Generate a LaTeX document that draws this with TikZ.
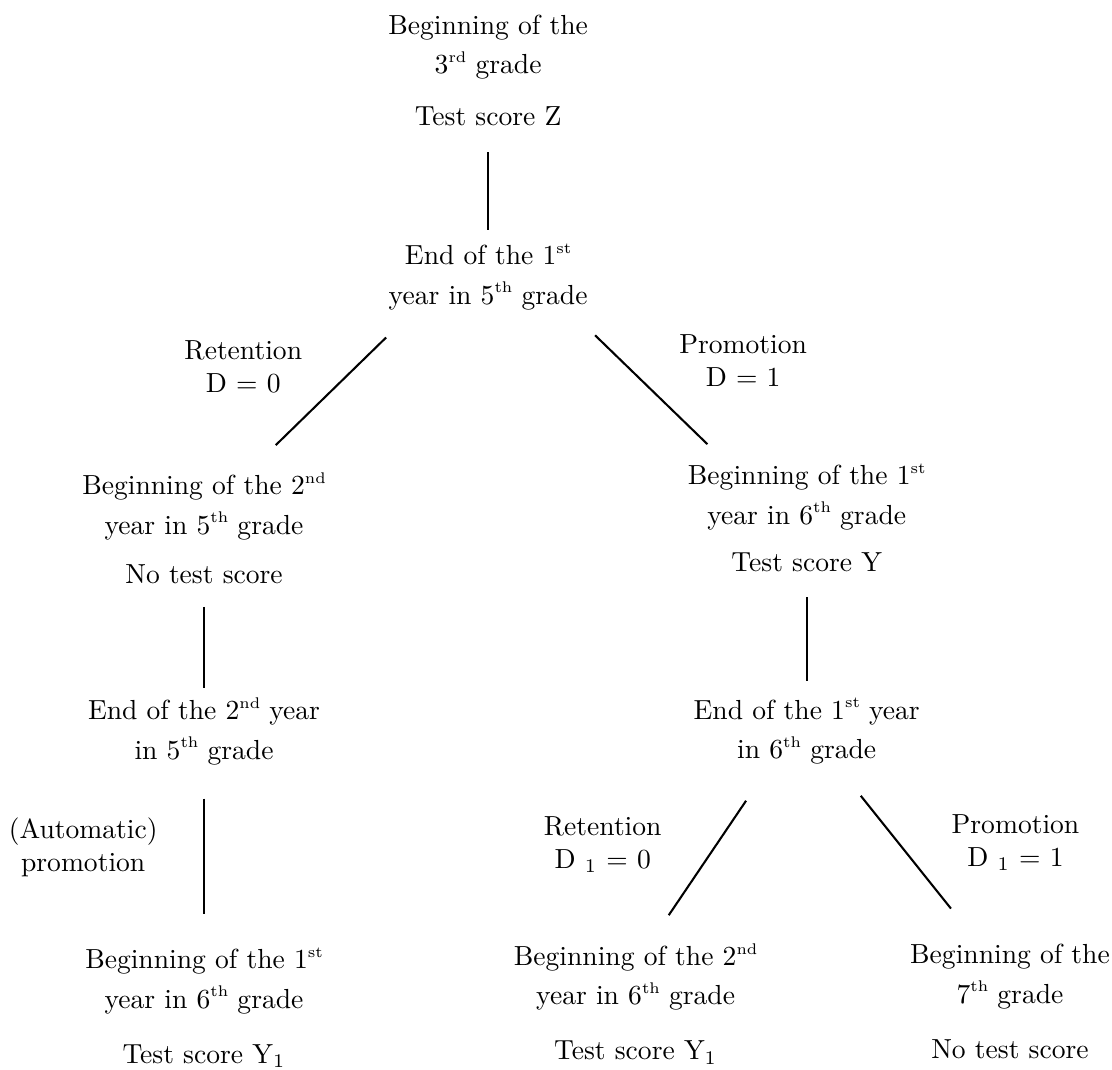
\documentclass[tikz,border=0pt]{standalone}
\usetikzlibrary{calc}

\newcommand{\ord}[1]{\raisebox{0.95ex}{\fontsize{5.6}{6}\selectfont #1}}

\tikzset{
  stage/.style={align=center,inner sep=0pt},
  choice/.style={align=center,inner sep=0pt},
  link/.style={line width=0.75pt}
}

\begin{document}
\begin{tikzpicture}
  \useasboundingbox (0,0) rectangle (14.17,13.63);
  % stages of the school career
  \node[stage] (start) at (6.22,12.73) {Beginning of the\\[2pt] 3\ord{rd} grade\\[6.8pt] Test score Z};
  \node[stage] (end1) at (6.22,10.10) {End of the 1\ord{st}\\[2.3pt] year in 5\ord{th} grade};
  \node[stage] (b2) at (2.60,6.90) {Beginning of the 2\ord{nd}\\[2.3pt] year in 5\ord{th} grade\\[5.8pt] No test score};
  \node[stage] (b1) at (10.28,7.03) {Beginning of the 1\ord{st}\\[2.3pt] year in 6\ord{th} grade\\[5.3pt] Test score Y};
  \node[stage] (e2) at (2.60,4.31) {End of the 2\ord{nd} year\\[2.3pt] in 5\ord{th} grade};
  \node[stage] (e1r) at (10.28,4.31) {End of the 1\ord{st} year\\[2.3pt] in 6\ord{th} grade};
  \node[stage] (b6) at (2.60,0.79) {Beginning of the 1\ord{st}\\[2.3pt] year in 6\ord{th} grade\\[8pt] Test score Y$_1$};
  \node[stage] (b6r) at (8.10,0.84) {Beginning of the 2\ord{nd}\\[2.3pt] year in 6\ord{th} grade\\[8pt] Test score Y$_1$};
  \node[stage] (b7) at (12.87,0.87) {Beginning of the\\[2.3pt] 7\ord{th} grade\\[8pt] No test score};
  % decisions
  \node[choice] (ret1) at (3.10,8.95) {Retention\\ D $=$ 0};
  \node[choice] (pro1) at (9.47,9.04) {Promotion\\ D $=$ 1};
  \node[choice] (auto) at (1.06,2.83) {(Automatic)\\ promotion};
  \node[choice] (ret2) at (7.68,2.87) {Retention\\ D $_1$ $=$ 0};
  \node[choice] (pro2) at (12.94,2.89) {Promotion\\ D $_1$ $=$ 1};
  % branches
  \draw[link] ([yshift=-9.4pt]start.south) -- ([yshift=5pt]end1.north);
  \draw[link] ([xshift=-37pt,yshift=-9.8pt]end1.south) -- ([xshift=26pt,yshift=9.8pt]b2.north);
  \draw[link] ([xshift=38.8pt,yshift=-9pt]end1.south) -- ([xshift=-36pt,yshift=6.9pt]b1.north);
  \draw[link] ([yshift=-8.3pt]b2.south) -- ([yshift=3.3pt]e2.north);
  \draw[link] ([yshift=-9pt]b1.south) -- ([yshift=6.2pt]e1r.north);
  \draw[link] ([yshift=-12pt]e2.south) -- ([yshift=12pt]b6.north);
  \draw[link] ([xshift=-22pt,yshift=-13pt]e1r.south) -- ([xshift=12pt,yshift=10pt]b6r.north);
  \draw[link] ([xshift=19.6pt,yshift=-11.2pt]e1r.south) -- ([xshift=-21.4pt,yshift=12.7pt]b7.north);
\end{tikzpicture}
\end{document}
